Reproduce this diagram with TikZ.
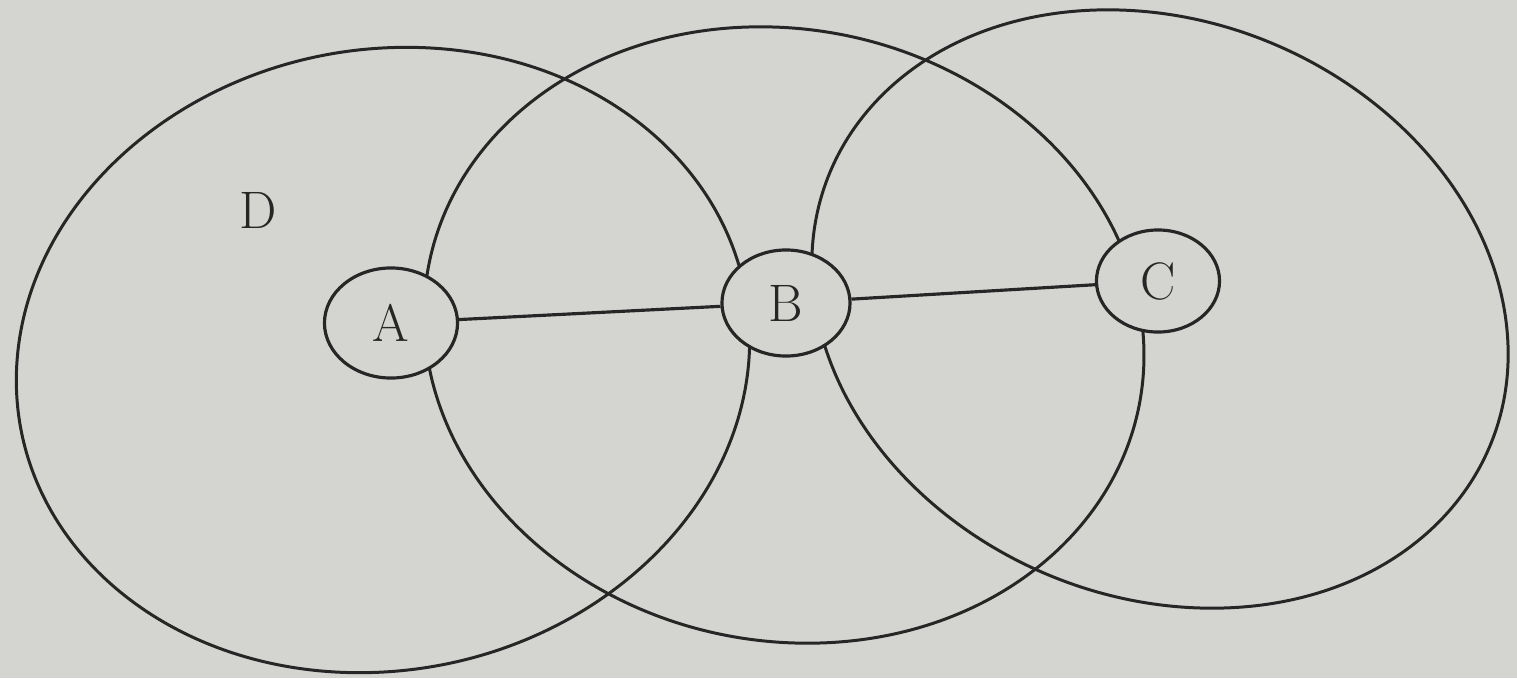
\documentclass[tikz,border=0pt]{standalone}
\usetikzlibrary{shapes.geometric}
\definecolor{paper}{RGB}{212,212,208}
\definecolor{ink}{RGB}{38,38,38}
\tikzset{
  bigcell/.style={draw=ink, line width=0.85pt},
  station/.style={draw=ink, line width=0.9pt, ellipse, fill=paper, inner sep=0pt,
     font=\fontsize{15}{18}\selectfont, text=ink},
  link/.style={draw=ink, line width=0.9pt},
  lbl/.style={font=\fontsize{15}{18}\selectfont, text=ink, inner sep=0pt}
}
\begin{document}
\begin{tikzpicture}[x=0.01cm,y=-0.01cm]
\fill[paper] (0,0) rectangle (1517,678);
\useasboundingbox (0,0) rectangle (1517,678);
% large coverage cells (slightly skewed, as in the photographed page)
\draw[bigcell, shift={(383,360)}, xslant=0.075] (0,0) ellipse [x radius=3.657cm, y radius=3.125cm];
\draw[bigcell, shift={(784,335)}, xslant=-0.076] (0,0) ellipse [x radius=3.59cm, y radius=3.08cm];
\draw[bigcell, shift={(1160,309)}, xslant=-0.174] (0,0) ellipse [x radius=3.44cm, y radius=2.99cm];
% stations
\node[station, minimum width=1.33cm, minimum height=1.10cm] (A) at (391,323) {A};
\node[station, minimum width=1.28cm, minimum height=1.06cm] (B) at (786,303) {B};
\node[station, minimum width=1.23cm, minimum height=1.02cm] (C) at (1158,281) {C};
\draw[link] (A) -- (B);
\draw[link] (B) -- (C);
\node[lbl] (D) at (258,210) {D};
\end{tikzpicture}
\end{document}
